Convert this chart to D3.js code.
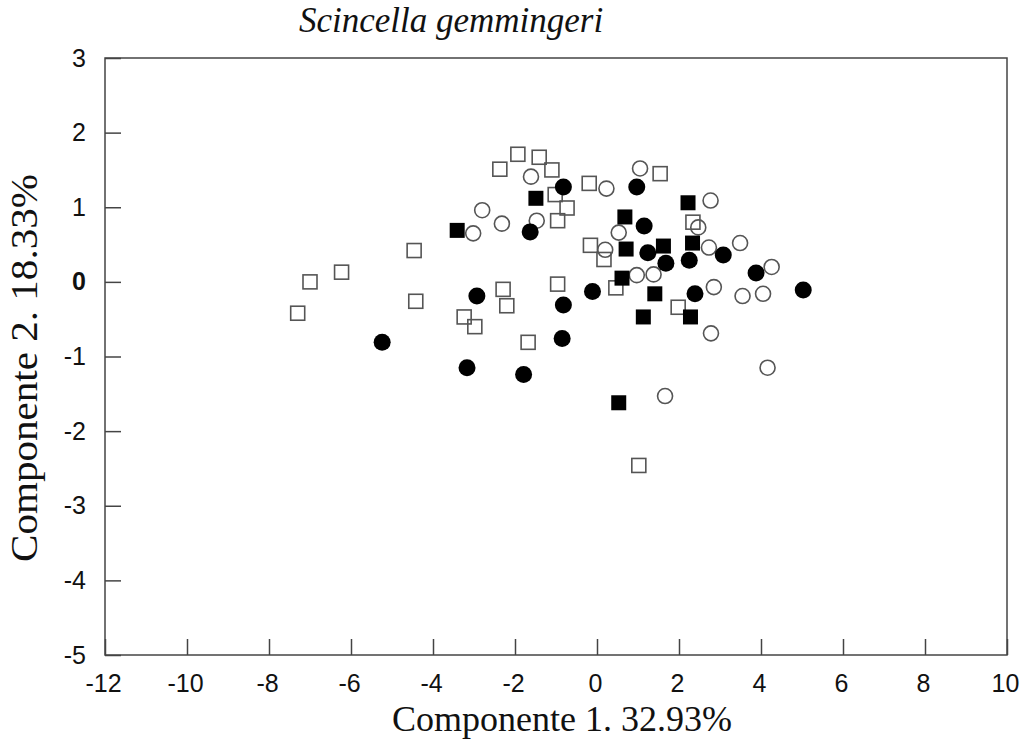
<!DOCTYPE html>
<meta charset="utf-8">
<style>
  body { margin: 0; background: #fff; }
</style>
<div id="container"></div>
<script src="https://cdn.jsdelivr.net/npm/d3@7"></script>
<script>

// PCA scores: [component 1, component 2]
const openSquares = [
  [-7.30, -0.42], [-7.00, 0.00], [-6.23, 0.13], [-4.46, 0.42], [-4.42, -0.26],
  [-2.37, 1.51], [-1.93, 1.71], [-1.41, 1.67], [-1.10, 1.50], [-1.02, 1.17],
  [-0.73, 0.99], [-0.96, 0.82], [-2.29, -0.10], [-2.20, -0.32], [-3.24, -0.47],
  [-2.98, -0.60], [-1.68, -0.81], [-0.96, -0.03], [-0.19, 1.32], [1.54, 1.45],
  [-0.16, 0.49], [0.17, 0.30], [0.46, -0.08], [2.34, 0.80], [1.98, -0.34],
  [1.02, -2.46]
];
const openCircles = [
  [-1.61, 1.41], [-2.80, 0.96], [-2.32, 0.78], [-3.02, 0.65], [-1.47, 0.82],
  [1.05, 1.52], [0.23, 1.25], [2.77, 1.09], [0.53, 0.66], [2.47, 0.73],
  [0.20, 0.43], [2.73, 0.46], [3.49, 0.52], [4.26, 0.20], [0.97, 0.09],
  [1.38, 0.10], [2.85, -0.07], [3.55, -0.19], [4.05, -0.16], [2.78, -0.69],
  [4.16, -1.15], [1.66, -1.53]
];
const filledSquares = [
  [-1.49, 1.12], [-3.41, 0.69], [2.22, 1.06], [0.68, 0.87], [0.71, 0.44],
  [1.62, 0.48], [2.33, 0.52], [0.61, 0.05], [1.41, -0.16], [1.13, -0.47],
  [2.28, -0.47], [0.53, -1.62]
];
const filledCircles = [
  [-0.82, 1.27], [-1.63, 0.67], [-2.93, -0.19], [-0.82, -0.31], [-0.85, -0.76],
  [-5.24, -0.81], [-3.17, -1.15], [-1.79, -1.24], [0.97, 1.27], [1.15, 0.75],
  [1.24, 0.39], [1.68, 0.25], [2.25, 0.29], [3.08, 0.36], [3.88, 0.12],
  [5.03, -0.11], [-0.11, -0.13], [2.39, -0.16]
];

const xTicks = [-12, -10, -8, -6, -4, -2, 0, 2, 4, 6, 8, 10];
const yTicks = [3, 2, 1, 0, -1, -2, -3, -4, -5];

const title = "Scincella gemmingeri";
const xTitle = "Componente 1. 32.93%";
const yTitle = "Componente 2. 18.33%";

const width = 1022;
const height = 740;
const plotLeft = 105, plotRight = 1007, plotTop = 58, plotBottom = 655;
const frameColor = "#444";
const openColor = "#555";

const x = d3.scaleLinear().domain([-12, 10]).range([plotLeft, plotRight]);
const y = d3.scaleLinear().domain([-5, 3]).range([plotBottom, plotTop]);

const svg = d3.create("svg")
    .attr("width", width)
    .attr("height", height)
    .style("display", "block");

// axes, ticks pointing into the plot; plain hyphen for negatives
const xAxis = svg.append("g")
    .attr("transform", `translate(0,${plotBottom})`)
    .call(d3.axisBottom(x).tickValues(xTicks).tickSize(-16).tickPadding(19).tickFormat(d => String(d)));
const yAxis = svg.append("g")
    .attr("transform", `translate(${plotLeft},0)`)
    .call(d3.axisLeft(y).tickValues(yTicks).tickSize(-16).tickPadding(19).tickFormat(d => String(d)));

[xAxis, yAxis].forEach(a => {
  a.select(".domain").remove();
  a.selectAll(".tick line").attr("stroke", frameColor).attr("stroke-width", 1.5);
  a.selectAll(".tick text")
      .attr("fill", "#111")
      .style("font-family", "'Liberation Sans', Arial, sans-serif")
      .style("font-size", "25px");
});
xAxis.selectAll(".tick text").attr("dx", -2);
yAxis.selectAll(".tick text").filter(d => d === 0).style("font-weight", "bold");

svg.append("rect")
    .attr("x", plotLeft).attr("y", plotTop)
    .attr("width", plotRight - plotLeft).attr("height", plotBottom - plotTop)
    .attr("fill", "none")
    .attr("stroke", frameColor)
    .attr("stroke-width", 1.5);

// open markers first, filled ones on top
const sq = 14, fsq = 15;
svg.append("g").selectAll("rect").data(openSquares).enter().append("rect")
    .attr("x", d => x(d[0]) - sq / 2)
    .attr("y", d => y(d[1]) - sq / 2)
    .attr("width", sq).attr("height", sq)
    .attr("fill", "none")
    .attr("stroke", openColor)
    .attr("stroke-width", 1.6);

svg.append("g").selectAll("circle").data(openCircles).enter().append("circle")
    .attr("cx", d => x(d[0]))
    .attr("cy", d => y(d[1]))
    .attr("r", 7.5)
    .attr("fill", "none")
    .attr("stroke", openColor)
    .attr("stroke-width", 1.6);

svg.append("g").selectAll("rect").data(filledSquares).enter().append("rect")
    .attr("x", d => x(d[0]) - fsq / 2)
    .attr("y", d => y(d[1]) - fsq / 2)
    .attr("width", fsq).attr("height", fsq)
    .attr("fill", "#000");

svg.append("g").selectAll("circle").data(filledCircles).enter().append("circle")
    .attr("cx", d => x(d[0]))
    .attr("cy", d => y(d[1]))
    .attr("r", 8.5)
    .attr("fill", "#000");

// titles
const serif = "'Liberation Serif', 'Times New Roman', serif";
svg.append("text")
    .attr("x", 451).attr("y", 32)
    .attr("text-anchor", "middle")
    .style("font-family", serif)
    .style("font-style", "italic")
    .style("font-size", "35px")
    .attr("fill", "#111")
    .text(title);

svg.append("text")
    .attr("x", 562).attr("y", 731)
    .attr("text-anchor", "middle")
    .style("font-family", serif)
    .style("font-size", "36px")
    .attr("fill", "#111")
    .text(xTitle);

svg.append("text")
    .attr("transform", "translate(37,368) rotate(-90)")
    .attr("text-anchor", "middle")
    .attr("textLength", 388)
    .attr("lengthAdjust", "spacingAndGlyphs")
    .style("font-family", serif)
    .style("font-size", "37px")
    .attr("fill", "#111")
    .text(yTitle);

container.append(svg.node());

</script>
